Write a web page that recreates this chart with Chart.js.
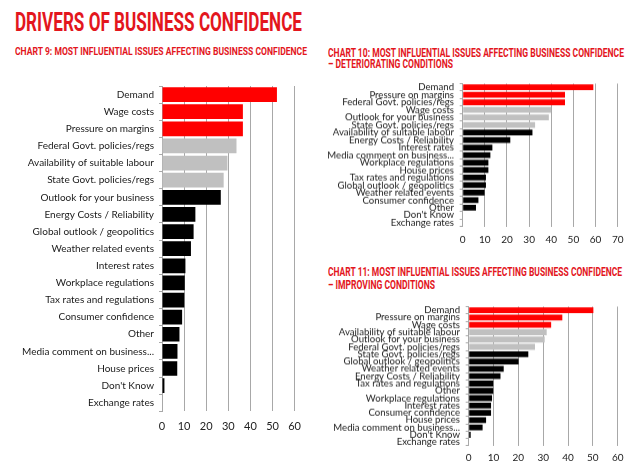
<!DOCTYPE html>
<html><head><meta charset="utf-8">
<script src="https://cdn.jsdelivr.net/npm/chart.js@4.4.1/dist/chart.umd.min.js"></script>
<style>
html,body{margin:0;padding:0;background:#fff;width:640px;height:475px;overflow:hidden;}
body{position:relative;}
.t{position:absolute;white-space:nowrap;color:#e3161d;font-family:'Roboto','DejaVu Sans Condensed',sans-serif;font-weight:700;transform-origin:0 0;line-height:1;}
.box{position:absolute;}
</style></head><body>
<div class="t" data-w="287" style="left:15px;top:8.9px;font-size:26px;">DRIVERS OF BUSINESS CONFIDENCE</div>
<div class="t" data-w="292" style="left:15px;top:46px;font-size:11px;">CHART 9: MOST INFLUENTIAL ISSUES AFFECTING BUSINESS CONFIDENCE</div>
<div class="t" data-w="296" style="left:328px;top:45.6px;font-size:13px;">CHART 10: MOST INFLUENTIAL ISSUES AFFECTING BUSINESS CONFIDENCE</div>
<div class="t" data-w="125" style="left:328px;top:58.3px;font-size:12.7px;">– DETERIORATING CONDITIONS</div>
<div class="t" data-w="294" style="left:328px;top:265px;font-size:13px;">CHART 11: MOST INFLUENTIAL ISSUES AFFECTING BUSINESS CONFIDENCE</div>
<div class="t" data-w="107" style="left:328px;top:279px;font-size:12.7px;">– IMPROVING CONDITIONS</div>
<div class="box" id="b9"><canvas id="c9"></canvas></div>
<div class="box" id="b10"><canvas id="c10"></canvas></div>
<div class="box" id="b11"><canvas id="c11"></canvas></div>
<script>
// ---- data ----
const chart9Labels = ["Demand","Wage costs","Pressure on margins","Federal Govt. policies/regs","Availability of suitable labour","State Govt. policies/regs","Outlook for your business","Energy Costs / Reliability","Global outlook / geopolitics","Weather related events","Interest rates","Workplace regulations","Tax rates and regulations","Consumer confidence","Other","Media comment on business...","House prices","Don't Know","Exchange rates"];
const chart9Values = [52,36.6,36.6,33.7,29.6,27.9,26.6,15.1,14.3,13.1,10.6,10.3,10.1,9.1,7.9,7.0,6.9,1.1,0];

const chart10Labels = ["Demand","Pressure on margins","Federal Govt. policies/regs","Wage costs","Outlook for your business","State Govt. policies/regs","Availability of suitable labour","Energy Costs / Reliability","Interest rates","Media comment on business...","Workplace regulations","House prices","Tax rates and regulations","Global outlook / geopolitics","Weather related events","Consumer confidence","Other","Don't Know","Exchange rates"];
const chart10Values = [59.0,46.2,46.2,39.9,38.9,32.7,31.5,21.5,13.4,12.5,11.6,11.6,10.5,10.5,9.9,7.1,6.0,0,0];

const chart11Labels = ["Demand","Pressure on margins","Wage costs","Availability of suitable labour","Outlook for your business","Federal Govt. policies/regs","State Govt. policies/regs","Global outlook / geopolitics","Weather related events","Energy Costs / Reliability","Tax rates and regulations","Other","Workplace regulations","Interest rates","Consumer confidence","House prices","Media comment on business...","Don't Know","Exchange rates"];
const chart11Values = [50.2,37.7,33.2,31.4,30.6,26.7,24.0,20.1,14.1,12.8,9.9,9.9,9.4,9.0,9.0,7.0,5.6,0.8,0];

const chart9AxisMax = 60;
const chart10AxisMax = 70;
const chart11AxisMax = 60;
const axisStep = 10;

// ---- styles ----
const RED = '#ff0000', GRAY = '#c0c0c0', BLACK = '#000000';
const FONT = "Lato, 'Open Sans', sans-serif";
function rankColor(i){ return i < 3 ? RED : (i < 6 ? GRAY : BLACK); }

function build(boxId, canvasId, labels, values, axisMax, o){
  const box = document.getElementById(boxId);
  box.style.left = o.left + 'px';
  box.style.top = o.top + 'px';
  box.style.width = o.width + 'px';
  box.style.height = (o.padTop + o.plotH + o.xh) + 'px';
  new Chart(document.getElementById(canvasId), {
    type: 'bar',
    data: { labels: labels, datasets: [{ data: values, backgroundColor: labels.map((_, i) => rankColor(i)), borderWidth: 0, barPercentage: 1, categoryPercentage: o.cat }] },
    options: {
      indexAxis: 'y', responsive: true, maintainAspectRatio: false, animation: false,
      devicePixelRatio: 1,
      layout: { padding: { top: o.padTop, right: o.padRight, left: 0, bottom: 0 } },
      plugins: { legend: { display: false }, tooltip: { enabled: false } },
      scales: {
        x: { min: 0, max: axisMax, ticks: { stepSize: axisStep, padding: o.xPad, color: '#222', font: { family: FONT, size: o.xFont } },
             grid: { color: '#a8a8a8', drawTicks: false, lineWidth: 1 }, border: { display: false },
             afterFit(s){ s.height = o.xh; } },
        y: { ticks: { autoSkip: false, padding: o.yPad, color: '#1a1a1a', font: { family: FONT, size: o.yFont } },
             grid: { drawOnChartArea: false, drawTicks: true, tickLength: 3, color: '#a8a8a8', offset: true },
             border: { display: true, color: '#a8a8a8' },
             afterFit(s){ s.width = o.yw; } }
      }
    }
  });
}

function fitTitles(){
  document.querySelectorAll('.t').forEach(el => {
    const w = el.getBoundingClientRect().width;
    const target = parseFloat(el.dataset.w);
    el.style.transform = 'scaleX(' + (target / w) + ')';
  });
}

function go(){
  fitTitles();
  build('b9','c9',chart9Labels,chart9Values,chart9AxisMax,{left:0,top:75,width:310,padTop:3.75,plotH:332.5,xh:28,padRight:8,yw:162,cat:0.86,xPad:9,yPad:5,xFont:11,yFont:10});
  build('b10','c10',chart10Labels,chart10Values,chart10AxisMax,{left:320,top:72,width:320,padTop:4.8,plotH:148.8,xh:22,padRight:22.3,yw:142.7,cat:0.77,xPad:7,yPad:5.7,xFont:10,yFont:9.6});
  build('b11','c11',chart11Labels,chart11Values,chart11AxisMax,{left:320,top:295,width:320,padTop:4.9,plotH:145,xh:20,padRight:22.3,yw:148.7,cat:0.8,xPad:6,yPad:5.7,xFont:10,yFont:9.6});
}
if (document.fonts && document.fonts.ready) { document.fonts.ready.then(go); } else { go(); }
</script>
</body></html>
